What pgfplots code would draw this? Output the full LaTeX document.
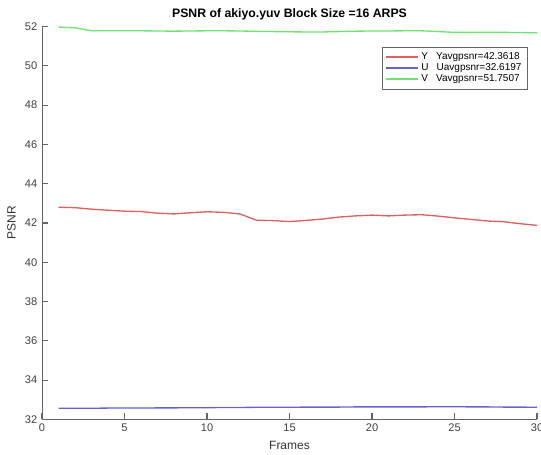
\documentclass[border=0pt]{standalone}
\usepackage{pgfplots}
\pgfplotsset{compat=1.18}
\usepackage{fontspec}
\setmainfont{Liberation Sans}
\definecolor{Yc}{RGB}{225,95,95}
\definecolor{Uc}{RGB}{100,100,215}
\definecolor{Vc}{RGB}{110,228,110}
\definecolor{axc}{RGB}{100,100,100}
\begin{document}
\begin{tikzpicture}
\begin{axis}[
  at={(0,0)}, anchor=south west,
  scale only axis, width=371.25pt, height=294.75pt,
  xmin=0, xmax=30, ymin=32, ymax=52,
  xtick={0,5,...,30}, ytick={32,34,...,52},
  axis lines=left, axis line style={-, draw=axc, line width=0.7pt},
  tick align=inside,
  xtick style={draw=axc, line width=0.8pt},
  ytick style={draw=axc, line width=0.8pt},
  major tick length=4.5pt,
  /pgf/number format/assume math mode=true,
  ticklabel style={font=\fontsize{8.3}{10}\selectfont, text=black!75},
  xlabel={Frames}, ylabel={PSNR},
  label style={font=\fontsize{9}{11}\selectfont, text=black!80},
  title={\textbf{PSNR of akiyo.yuv Block Size =16 ARPS}},
  title style={font=\fontsize{9.2}{11}\selectfont, yshift=-5pt},
  legend style={at={(0.98,0.947)}, anchor=north east, draw=black!60, font=\fontsize{7.5}{9}\selectfont, row sep=-2.5pt, inner sep=2pt, fill=white},
  legend cell align=left,
]
\addplot[Yc, line width=1pt, forget plot] coordinates {
(1,42.80)(2,42.78)(3,42.70)(4,42.65)(5,42.60)(6,42.58)(7,42.50)(8,42.46)(9,42.52)(10,42.57)
(11,42.54)(12,42.46)(13,42.14)(14,42.12)(15,42.07)(16,42.13)(17,42.20)(18,42.30)(19,42.36)(20,42.40)
(21,42.36)(22,42.40)(23,42.42)(24,42.35)(25,42.26)(26,42.18)(27,42.10)(28,42.06)(29,41.96)(30,41.88)};
\addplot[Uc, line width=1pt, forget plot] coordinates {
(1,32.57)(2,32.57)(3,32.57)(4,32.58)(5,32.58)(6,32.58)(7,32.59)(8,32.59)(9,32.60)(10,32.60)
(11,32.61)(12,32.61)(13,32.62)(14,32.62)(15,32.62)(16,32.63)(17,32.63)(18,32.63)(19,32.64)(20,32.64)
(21,32.64)(22,32.64)(23,32.64)(24,32.65)(25,32.65)(26,32.64)(27,32.64)(28,32.63)(29,32.63)(30,32.62)};
\addplot[Vc, line width=1pt, forget plot] coordinates {
(1,51.97)(2,51.93)(3,51.78)(4,51.78)(5,51.78)(6,51.78)(7,51.77)(8,51.76)(9,51.77)(10,51.78)
(11,51.78)(12,51.77)(13,51.75)(14,51.74)(15,51.73)(16,51.72)(17,51.72)(18,51.74)(19,51.76)(20,51.77)
(21,51.77)(22,51.78)(23,51.78)(24,51.74)(25,51.70)(26,51.70)(27,51.71)(28,51.70)(29,51.69)(30,51.68)};
\addlegendimage{legend image code/.code={\draw[Yc, line width=1.4pt] (0pt,0pt) -- (24pt,0pt);}}
\addlegendentry{Y\hspace{0.8em}Yavgpsnr=42.3618}
\addlegendimage{legend image code/.code={\draw[Uc, line width=1.4pt] (0pt,0pt) -- (24pt,0pt);}}
\addlegendentry{U\hspace{0.8em}Uavgpsnr=32.6197}
\addlegendimage{legend image code/.code={\draw[Vc, line width=1.4pt] (0pt,0pt) -- (24pt,0pt);}}
\addlegendentry{V\hspace{0.8em}Vavgpsnr=51.7507}
\end{axis}
\pgfresetboundingbox
\path (-31.5pt,-25.9pt) rectangle (374.25pt,314.6pt);
\end{tikzpicture}
\end{document}
